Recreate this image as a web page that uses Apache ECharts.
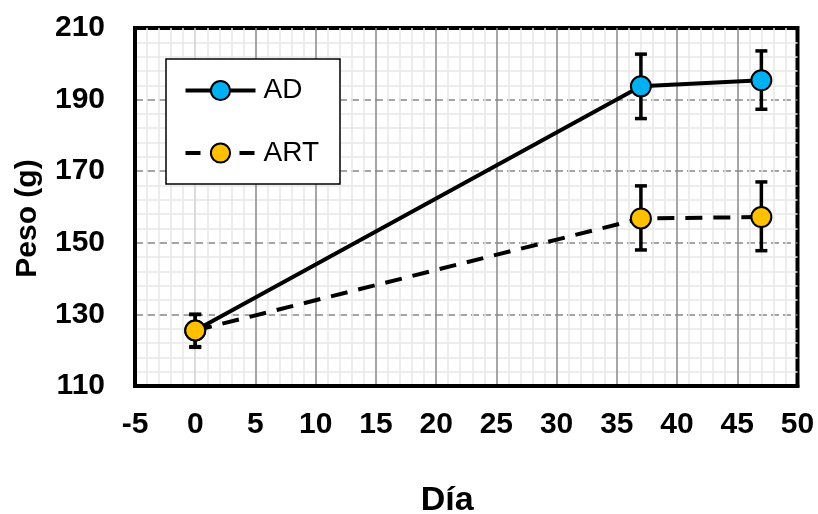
<!DOCTYPE html>
<html>
<head>
<meta charset="utf-8">
<script src="https://cdn.jsdelivr.net/npm/echarts@6/dist/echarts.min.js"></script>
<style>
html,body{margin:0;padding:0;background:#fff;}
#c{width:818px;height:514px;}
</style>
</head>
<body>
<div id="c"></div>
<script>
// Data
const days = [0, 37, 47];
const adMean = [125.5, 193.7, 195.4];
const adLow = [121.0, 184.7, 187.3];
const adHigh = [130.0, 202.7, 203.6];
const artMean = [125.5, 156.8, 157.2];
const artLow = [120.8, 148.0, 147.8];
const artHigh = [130.0, 165.9, 167.0];
const seriesNames = ['AD', 'ART'];
const xTicks = { min: -5, max: 50, interval: 5 };
const yTicks = { min: 110, max: 210, interval: 20 };

const FONT = 'Liberation Sans, Arial, sans-serif';

function pairs(xs, ys) { return xs.map((x, i) => [x, ys[i]]); }
function triples(xs, lo, hi) { return xs.map((x, i) => [x, lo[i], hi[i]]); }

function errRender(params, api) {
  const x = api.value(0), lo = api.value(1), hi = api.value(2);
  const pLo = api.coord([x, lo]);
  const pHi = api.coord([x, hi]);
  const w = 6;
  const style = { stroke: '#000', lineWidth: 3.5 };
  return {
    type: 'group',
    children: [
      { type: 'line', shape: { x1: pLo[0], y1: pLo[1], x2: pHi[0], y2: pHi[1] }, style: style },
      { type: 'line', shape: { x1: pLo[0] - w, y1: pLo[1], x2: pLo[0] + w, y2: pLo[1] }, style: style },
      { type: 'line', shape: { x1: pHi[0] - w, y1: pHi[1], x2: pHi[0] + w, y2: pHi[1] }, style: style }
    ]
  };
}

const xLineColors = ['#cfcfcf'];
for (let i = 0; i < 9; i++) xLineColors.push('#888888');

const chart = echarts.init(document.getElementById('c'), null, { renderer: 'canvas' });
chart.setOption({
  animation: false,
  backgroundColor: '#fff',
  grid: {
    left: 135, right: 20.5, top: 28, bottom: 128,
    containLabel: false, outerBoundsMode: 'none',
    show: true, borderColor: '#000', borderWidth: 4, backgroundColor: '#fff'
  },
  legend: {
    data: [
      { name: seriesNames[0], lineStyle: { width: 4, color: '#000', type: 'solid' } },
      { name: seriesNames[1], lineStyle: { width: 4, color: '#000', type: [15, 12] } }
    ],
    orient: 'vertical',
    left: 166, top: 59,
    itemWidth: 70, itemHeight: 24, itemGap: 34.5,
    padding: [17.5, 21, 17, 17.5],
    backgroundColor: '#fff', borderColor: '#000', borderWidth: 1.5, borderRadius: 0,
    textStyle: { fontFamily: FONT, fontSize: 28, color: '#000', lineHeight: 24, padding: [0, 0, 0, 3] }
  },
  xAxis: {
    type: 'value',
    min: xTicks.min, max: xTicks.max, interval: xTicks.interval,
    name: 'Día', nameLocation: 'middle', nameGap: 98,
    nameTextStyle: { fontFamily: FONT, fontSize: 34, fontWeight: 'bold', color: '#000', padding: [0, 38, 0, 0] },
    axisLine: { show: true, onZero: false, lineStyle: { color: '#000', width: 4 } },
    axisTick: { show: false },
    axisLabel: { fontFamily: FONT, fontSize: 30, fontWeight: 'bold', color: '#000', margin: 24 },
    splitLine: { show: true, showMinLine: false, showMaxLine: false, lineStyle: { color: xLineColors, width: 1.5 } },
    minorTick: { show: false, splitNumber: 5 },
    minorSplitLine: { show: true, lineStyle: { color: '#e8e8e8', width: 1.5 } }
  },
  yAxis: {
    type: 'value',
    min: yTicks.min, max: yTicks.max, interval: yTicks.interval,
    name: 'Peso (g)', nameLocation: 'middle', nameGap: 92, nameRotate: 90,
    nameTextStyle: { fontFamily: FONT, fontSize: 30, fontWeight: 'bold', color: '#000', padding: [0, 23, 0, 0] },
    axisLine: { show: true, onZero: false, lineStyle: { color: '#000', width: 4 } },
    axisTick: { show: false },
    axisLabel: { fontFamily: FONT, fontSize: 30, fontWeight: 'bold', color: '#000', margin: 30 },
    splitLine: { show: true, showMinLine: false, showMaxLine: false, lineStyle: { color: '#888888', width: 1.5, type: [8, 4] } },
    minorTick: { show: false, splitNumber: 5 },
    minorSplitLine: { show: true, lineStyle: { color: '#e8e8e8', width: 1.5 } }
  },
  series: [
    {
      name: 'AD-err', type: 'custom', renderItem: errRender,
      data: triples(days, adLow, adHigh), encode: { x: 0, y: [1, 2] }, z: 1, silent: true
    },
    {
      name: 'ART-err', type: 'custom', renderItem: errRender,
      data: triples(days, artLow, artHigh), encode: { x: 0, y: [1, 2] }, z: 1, silent: true
    },
    {
      name: seriesNames[0], type: 'line', data: pairs(days, adMean), z: 3,
      symbol: 'circle', symbolSize: 20,
      itemStyle: { color: '#00B0F0', borderColor: '#000', borderWidth: 2 },
      lineStyle: { color: '#000', width: 4 }
    },
    {
      name: seriesNames[1], type: 'line', data: pairs(days, artMean), z: 4,
      symbol: 'circle', symbolSize: 20,
      itemStyle: { color: '#FFC000', borderColor: '#000', borderWidth: 2 },
      lineStyle: { color: '#000', width: 4, type: [17, 11] }
    }
  ]
});
</script>
</body>
</html>
